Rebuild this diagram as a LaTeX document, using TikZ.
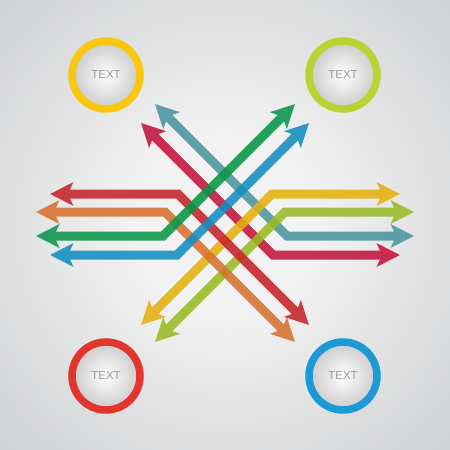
\documentclass[tikz,border=0pt]{standalone}
\usepackage{fontspec}
\setmainfont{Liberation Sans}
\usetikzlibrary{arrows.meta}
\definecolor{cRed}{HTML}{C4252A}
\definecolor{cOrange}{HTML}{D8722F}
\definecolor{cGreen}{HTML}{0B9548}
\definecolor{cBlue}{HTML}{138EC2}
\definecolor{cYellow}{HTML}{E6B00C}
\definecolor{cLime}{HTML}{98BB26}
\definecolor{cTeal}{HTML}{4A96A0}
\definecolor{cCrimson}{HTML}{C4133D}
\definecolor{rYellow}{HTML}{F9C70E}
\definecolor{rLime}{HTML}{B8D433}
\definecolor{rRed}{HTML}{E2352C}
\definecolor{rBlue}{HTML}{1C9AD6}
\definecolor{txtgray}{HTML}{9A9A9A}
\definecolor{bgA}{HTML}{F2F2F2}
\definecolor{bgB}{HTML}{DCDDDE}
\definecolor{bgC}{HTML}{C2C3C5}
\definecolor{bgD}{HTML}{AFB0B2}
\pgfdeclareradialshading{bgshade}{\pgfpoint{0bp}{0bp}}{color(0bp)=(bgA); color(10bp)=(bgA); color(26bp)=(bgB); color(48bp)=(bgC); color(72bp)=(bgD)}
\tikzset{
  arr/.style={line width=9pt, {Stealth[length=23pt,width=23pt,inset=5pt]}-{Stealth[length=23pt,width=23pt,inset=5pt]}},
  ring/.style={line width=7.5pt},
  lbl/.style={text=txtgray, font=\fontsize{11.5}{12}\selectfont, inner sep=0pt}
}
\newcommand{\arrowpath}[4]{%
  \begin{scope}[transparency group, opacity=0.88]
    \draw[arr, draw=#1] (#2) -- (#3) -- (#4);
  \end{scope}}
\newcommand{\badge}[3]{%
  \shade[inner color=white, outer color=gray!38] (#2) circle (31);
  \draw[ring, draw=#3] (#2) circle (34);
  \node[lbl] (#1) at (#2) {TEXT};}
\begin{document}
\begin{tikzpicture}[x=1pt,y=-1pt]
\useasboundingbox (0,0) rectangle (450,450);
\shade[shading=bgshade] (0,0) rectangle (450,450);
% coordinates
\coordinate (rA) at (50,194);  \coordinate (rB) at (178,194); \coordinate (rC) at (309,325);
\coordinate (oA) at (36,212);  \coordinate (oB) at (165,212); \coordinate (oC) at (295,342);
\coordinate (gA) at (36,236);  \coordinate (gB) at (163,236); \coordinate (gC) at (295,104);
\coordinate (bA) at (50,255);  \coordinate (bB) at (177,255); \coordinate (bC) at (309,123);
\coordinate (yA) at (400,194); \coordinate (yB) at (272,194); \coordinate (yC) at (141,325);
\coordinate (lA) at (414,212); \coordinate (lB) at (285,212); \coordinate (lC) at (155,342);
\coordinate (tA) at (414,236); \coordinate (tB) at (287,236); \coordinate (tC) at (155,104);
\coordinate (cA) at (400,255); \coordinate (cB) at (273,255); \coordinate (cC) at (141,123);
\arrowpath{cTeal}{tA}{tB}{tC}
\arrowpath{cCrimson}{cA}{cB}{cC}
\arrowpath{cYellow}{yA}{yB}{yC}
\arrowpath{cLime}{lA}{lB}{lC}
\arrowpath{cRed}{rA}{rB}{rC}
\arrowpath{cOrange}{oA}{oB}{oC}
\arrowpath{cGreen}{gA}{gB}{gC}
\arrowpath{cBlue}{bA}{bB}{bC}
% badges
\coordinate (pTL) at (106,75);
\coordinate (pTR) at (343,75);
\coordinate (pBL) at (106,376);
\coordinate (pBR) at (343,376);
\badge{tl}{pTL}{rYellow}
\badge{tr}{pTR}{rLime}
\badge{bl}{pBL}{rRed}
\badge{br}{pBR}{rBlue}
\end{tikzpicture}
\end{document}
